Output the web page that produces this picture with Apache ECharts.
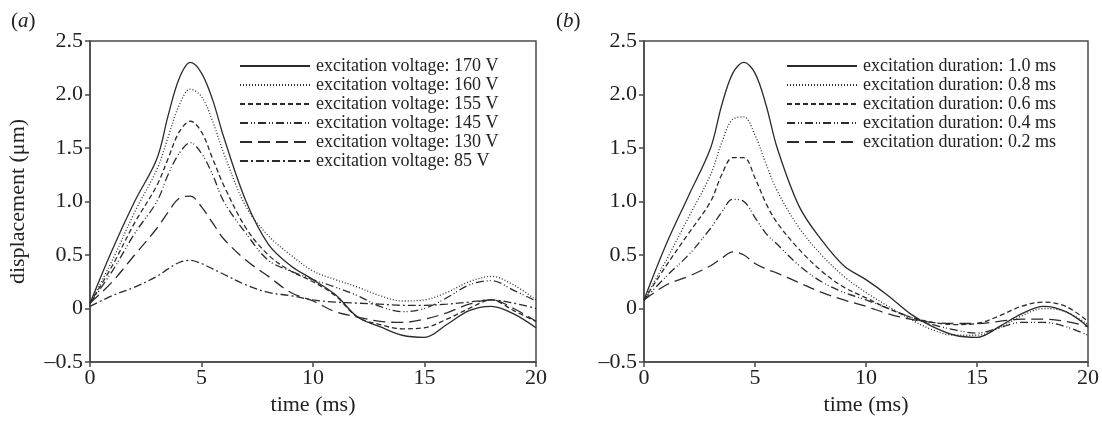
<!DOCTYPE html>
<html><head><meta charset="utf-8">
<script src="https://cdn.jsdelivr.net/npm/echarts@6/dist/echarts.min.js"></script>
<style>html,body{margin:0;padding:0;background:#fff}#c{width:1102px;height:429px}</style>
</head><body><div id="c"></div>
<script>
// time samples (ms)
const time = [0,1,2,3,3.5,4,4.5,5,5.5,6,7,8,9,10,11,12,13,14,15,16,17,18,19,20];
const xTicks = [0,5,10,15,20];
const yTicks = [-0.5,0,0.5,1.0,1.5,2.0,2.5];

// panel (a): excitation voltage
const namesA = ['excitation voltage: 170 V','excitation voltage: 160 V','excitation voltage: 155 V','excitation voltage: 145 V','excitation voltage: 130 V','excitation voltage: 85 V'];
const a170 = [0.05,0.55,1.0,1.4,1.8,2.15,2.3,2.2,1.95,1.6,1.0,0.6,0.4,0.27,0.13,-0.08,-0.17,-0.25,-0.27,-0.15,-0.02,0.02,-0.05,-0.18];
const a160 = [0.05,0.45,0.9,1.3,1.6,1.9,2.05,1.98,1.75,1.45,0.95,0.68,0.5,0.35,0.27,0.2,0.12,0.07,0.08,0.15,0.25,0.3,0.22,0.08];
const a155 = [0.05,0.4,0.8,1.15,1.4,1.65,1.75,1.65,1.4,1.15,0.75,0.5,0.35,0.25,0.12,-0.08,-0.15,-0.19,-0.18,-0.1,0.0,0.08,-0.02,-0.12];
const a145 = [0.05,0.35,0.7,1.0,1.25,1.45,1.55,1.45,1.25,1.0,0.7,0.45,0.35,0.27,0.2,0.12,0.02,-0.03,0.0,0.1,0.22,0.26,0.17,0.07];
const a130 = [0.05,0.25,0.5,0.75,0.9,1.03,1.05,0.95,0.8,0.65,0.45,0.3,0.15,0.07,-0.03,-0.08,-0.12,-0.13,-0.1,-0.04,0.04,0.08,0.0,-0.12];
const a85  = [0.02,0.12,0.2,0.3,0.37,0.43,0.45,0.42,0.37,0.32,0.22,0.15,0.12,0.08,0.06,0.05,0.04,0.03,0.03,0.04,0.06,0.08,0.05,0.0];

// panel (b): excitation duration
const namesB = ['excitation duration: 1.0 ms','excitation duration: 0.8 ms','excitation duration: 0.6 ms','excitation duration: 0.4 ms','excitation duration: 0.2 ms'];
const b10 = [0.08,0.6,1.05,1.5,1.9,2.2,2.3,2.2,1.9,1.5,0.95,0.64,0.4,0.27,0.12,-0.05,-0.17,-0.25,-0.27,-0.17,-0.05,0.02,-0.03,-0.17];
const b08 = [0.08,0.45,0.85,1.25,1.55,1.77,1.79,1.62,1.35,1.1,0.75,0.5,0.3,0.15,0.02,-0.1,-0.2,-0.25,-0.25,-0.18,-0.07,0.0,-0.03,-0.15];
const b06 = [0.08,0.4,0.7,1.0,1.25,1.41,1.41,1.22,0.98,0.8,0.55,0.35,0.2,0.1,0.0,-0.08,-0.13,-0.15,-0.14,-0.07,0.02,0.06,0.02,-0.12];
const b04 = [0.08,0.3,0.5,0.75,0.9,1.02,1.0,0.85,0.7,0.6,0.4,0.25,0.15,0.08,0.0,-0.08,-0.15,-0.2,-0.23,-0.18,-0.13,-0.13,-0.17,-0.25];
const b02 = [0.08,0.22,0.3,0.4,0.47,0.53,0.5,0.42,0.37,0.33,0.24,0.15,0.08,0.02,-0.05,-0.1,-0.13,-0.14,-0.14,-0.12,-0.1,-0.1,-0.12,-0.17];

const seriesA = [a170,a160,a155,a145,a130,a85];
const seriesB = [b10,b08,b06,b04,b02];
const dashA = ['solid',[1,2],[5,3],[8,3,1,2,1,3],[12,6],[8,3,2,3]];
const dashB = ['solid',[1,2],[5,3],[8,3,1,2,1,3],[12,6]];

const FONT = 'Liberation Serif';
const LINE = '#2b2b2b';
const AX = '#4a4a4a';

function fmtY(v){ if (v === 0) return '0'; return v < 0 ? '\u2013' + Math.abs(v).toFixed(1) : v.toFixed(1); }

function xAxis(idx){
  return {type:'value', gridIndex:idx, min:0, max:20, interval:5,
    name:'time (ms)', nameLocation:'middle', nameGap:31,
    nameTextStyle:{fontFamily:FONT,fontSize:22,color:'#222'},
    axisLine:{show:true,onZero:false,lineStyle:{color:AX,width:1.5}},
    axisTick:{show:true,inside:false,length:5,lineStyle:{color:AX,width:1.5}},
    axisLabel:{fontFamily:FONT,fontSize:22,color:'#222',margin:5},
    splitLine:{show:false}};
}
function yAxis(idx, withName){
  return {type:'value', gridIndex:idx, min:-0.5, max:2.5, interval:0.5,
    name: withName ? 'displacement (\u03bcm)' : '', nameLocation:'middle', nameGap:61,
    nameTextStyle:{fontFamily:FONT,fontSize:22,color:'#222'},
    axisLine:{show:true,onZero:false,lineStyle:{color:AX,width:1.5}},
    axisTick:{show:true,inside:false,length:5,lineStyle:{color:AX,width:1.5}},
    axisLabel:{fontFamily:FONT,fontSize:22,color:'#222',margin:7,formatter:fmtY},
    splitLine:{show:false}};
}

const series = [];
seriesA.forEach((arr,i)=>series.push({type:'line',name:namesA[i],xAxisIndex:0,yAxisIndex:0,
  data:time.map((t,k)=>[t,arr[k]]),smooth:0.35,symbol:'none',
  lineStyle:{color:LINE,width:1.3,type:dashA[i]},itemStyle:{color:LINE}}));
seriesB.forEach((arr,i)=>series.push({type:'line',name:namesB[i],xAxisIndex:1,yAxisIndex:1,
  data:time.map((t,k)=>[t,arr[k]]),smooth:0.35,symbol:'none',
  lineStyle:{color:LINE,width:1.3,type:dashB[i]},itemStyle:{color:LINE}}));

const legendBase = {orient:'vertical', itemWidth:70, itemHeight:10, itemGap:1,
  itemStyle:{opacity:0},
  textStyle:{fontFamily:FONT,fontSize:18,color:'#222',lineHeight:18,padding:[0,0,0,1]},
  selectedMode:false};

const chart = echarts.init(document.getElementById('c'), null, {renderer:'canvas'});
chart.setOption({
  animation:false,
  backgroundColor:'#fff',
  grid:[
    {left:90, top:41, width:446, height:321, show:true, borderColor:AX, borderWidth:1.5, backgroundColor:'transparent'},
    {left:644, top:41, width:445, height:321, show:true, borderColor:AX, borderWidth:1.5, backgroundColor:'transparent'}
  ],
  title:[
    {text:'({i|a})', left:6, top:6, textStyle:{fontFamily:FONT,fontSize:21,fontWeight:'normal',color:'#222',
      rich:{i:{fontFamily:FONT,fontSize:21,fontStyle:'italic',color:'#222'}}}},
    {text:'({i|b})', left:551, top:6, textStyle:{fontFamily:FONT,fontSize:21,fontWeight:'normal',color:'#222',
      rich:{i:{fontFamily:FONT,fontSize:21,fontStyle:'italic',color:'#222'}}}}
  ],
  legend:[
    Object.assign({}, legendBase, {left:234, top:52, data:namesA}),
    Object.assign({}, legendBase, {left:781, top:52, data:namesB})
  ],
  xAxis:[xAxis(0), xAxis(1)],
  yAxis:[yAxis(0,true), yAxis(1,false)],
  series:series
});
</script></body></html>
